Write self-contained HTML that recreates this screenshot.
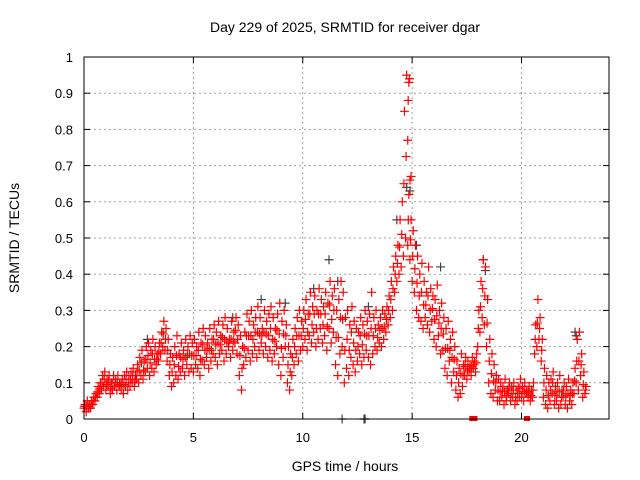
<!DOCTYPE html>
<html><head><meta charset="utf-8"><style>
body{margin:0;background:#fff}
svg{display:block;font-family:"Liberation Sans",sans-serif}
</style></head><body>
<svg id="c" width="640" height="480">
<text x="345" y="32" text-anchor="middle" font-size="14">Day 229 of 2025, SRMTID for receiver dgar</text>
<text transform="translate(19,238) rotate(-90)" text-anchor="middle" font-size="14">SRMTID / TECUs</text>
<text x="345" y="471" text-anchor="middle" font-size="14">GPS time / hours</text>
<g id="grid"></g>
<g id="ticks"></g>
<g id="black"></g>
<g id="red"></g>
<rect x="84" y="57" width="525" height="362" fill="none" stroke="#000" stroke-width="1"/>
</svg>
<script>
const xTicks=[0,5,10,15,20];
const yTicks=[0,0.1,0.2,0.3,0.4,0.5,0.6,0.7,0.8,0.9,1];
const yTickLabels=["0","0.1","0.2","0.3","0.4","0.5","0.6","0.7","0.8","0.9","1"];
const timeStep=0.1;
const redLow=[.03,.02,.03,.03,.04,.05,.06,.07,.08,.09,.08,.09,.07,.08,.09,.08,.09,.08,.07,.09,.08,.09,.10,.09,.11,.10,.12,.11,.13,.14,.12,.14,.13,.15,.16,.18,.20,.19,.16,.12,.09,.10,.12,.11,.13,.14,.12,.15,.13,.14,.13,.15,.14,.12,.16,.15,.17,.14,.16,.18,.17,.15,.18,.19,.16,.18,.20,.17,.19,.21,.18,.12,.08,.15,.17,.19,.16,.18,.20,.17,.19,.21,.18,.20,.17,.19,.16,.18,.20,.15,.12,.17,.20,.10,.08,.12,.15,.18,.16,.19,.20,.22,.19,.23,.21,.24,.20,.22,.25,.21,.23,.19,.25,.21,.24,.15,.12,.18,.20,.10,.14,.12,.17,.15,.13,.16,.18,.15,.17,.19,.17,.15,.18,.20,.19,.21,.20,.22,.24,.26,.28,.30,.35,.38,.40,.42,.45,.50,.48,.44,.38,.35,.30,.28,.27,.25,.28,.26,.24,.27,.22,.20,.23,.18,.19,.14,.12,.16,.10,.13,.08,.06,.07,.09,.12,.11,.13,.12,.14,.13,.20,.24,.28,.26,.20,.10,.07,.06,.08,.05,.05,.06,.04,.05,.07,.05,.06,.04,.05,.06,.06,.05,.07,.06,.05,.06,.18,.20,.22,.16,.06,.04,.03,.05,.07,.04,.05,.03,.04,.06,.04,.03,.05,.04,.07,.10,.08,.12,.06,.07];
const redHigh=[.04,.05,.04,.05,.06,.07,.09,.10,.12,.13,.11,.12,.10,.12,.11,.12,.10,.11,.12,.13,.12,.13,.14,.12,.15,.17,.19,.16,.20,.21,.19,.22,.20,.18,.21,.24,.27,.25,.22,.18,.17,.20,.23,.18,.21,.19,.22,.20,.23,.21,.22,.20,.24,.21,.25,.23,.21,.25,.22,.26,.24,.27,.23,.26,.28,.25,.22,.27,.24,.28,.26,.23,.20,.24,.29,.27,.30,.26,.28,.31,.28,.25,.30,.27,.29,.31,.28,.25,.29,.32,.27,.30,.26,.20,.18,.22,.25,.28,.30,.27,.30,.33,.29,.35,.31,.34,.30,.36,.33,.31,.35,.32,.38,.34,.36,.30,.33,.38,.35,.28,.30,.26,.31,.27,.25,.24,.28,.26,.30,.27,.29,.35,.28,.30,.26,.28,.30,.29,.31,.34,.38,.42,.45,.48,.55,.60,.85,.95,.62,.55,.52,.48,.45,.40,.43,.38,.35,.42,.36,.34,.33,.37,.30,.32,.28,.25,.27,.22,.24,.20,.16,.14,.18,.15,.17,.16,.15,.17,.16,.18,.30,.38,.44,.42,.33,.22,.18,.15,.12,.11,.10,.09,.11,.08,.10,.09,.10,.08,.09,.11,.09,.10,.08,.09,.08,.10,.26,.33,.28,.22,.14,.12,.10,.11,.13,.09,.10,.12,.08,.10,.09,.11,.08,.10,.14,.22,.24,.18,.13,.09];
const spikeTimes=[14.8,14.82,14.85,14.88,14.9,14.95];
const spikeValues=[0.77,0.88,0.93,0.94,0.66,0.67];
const blackTimes=[2.9,6.8,8.1,9.2,10.5,11.2,11.6,13.0,14.3,14.75,14.9,15.2,16.3,18.25,18.35,22.45,22.5,11.8,12.8,12.85];
const blackValues=[.22,.28,.33,.32,.36,.44,.38,.31,.55,.64,.63,.48,.42,.44,.41,.24,.23,0,0,0];
const redZeroTimes=[17.75,17.85,20.25];

const X0=84,X1=609,Y0=419,Y1=57,XMAX=24;
const sx=t=>X0+t/XMAX*(X1-X0);
const sy=v=>Y0-v*(Y0-Y1);
const NS="http://www.w3.org/2000/svg";
function mk(tag,attrs,parent){const e=document.createElementNS(NS,tag);for(const k in attrs)e.setAttribute(k,attrs[k]);parent.appendChild(e);return e;}
const grid=document.getElementById('grid'),ticks=document.getElementById('ticks');
yTicks.forEach((v,i)=>{
  const y=sy(v);
  if(i>0&&i<yTicks.length-1){const g=mk('line',{x1:X0,x2:X1,y1:y,y2:y,stroke:'#a0a0a0','stroke-dasharray':'2,3'},grid);
  
  }
  mk('line',{x1:X0,x2:X0+6,y1:y,y2:y,stroke:'#000'},ticks);
  mk('line',{x1:X1-6,x2:X1,y1:y,y2:y,stroke:'#000'},ticks);
  const t=mk('text',{x:X0-11,y:y+5,'text-anchor':'end','font-size':'13'},ticks);
  t.textContent=yTickLabels[i];
  
  
});
xTicks.forEach(v=>{
  const x=sx(v);
  if(v>0){const g=mk('line',{x1:x,x2:x,y1:Y1,y2:Y0,stroke:'#a0a0a0','stroke-dasharray':'2,3'},grid);
  
  }
  mk('line',{x1:x,x2:x,y1:Y0-6,y2:Y0,stroke:'#000'},ticks);
  mk('line',{x1:x,x2:x,y1:Y1,y2:Y1+6,stroke:'#000'},ticks);
  const t=mk('text',{x:x,y:Y0+23,'text-anchor':'middle','font-size':'13'},ticks);
  t.textContent=String(v);
  
  
});
function plus(g,x,y,c){const p=mk('path',{d:`M${x-4.5} ${y}h9M${x} ${y-4.5}v9`,stroke:c,'stroke-width':1.2,fill:'none'},g);
  
  }
const gb=document.getElementById('black'),gr=document.getElementById('red');
blackTimes.forEach((t,i)=>plus(gb,sx(t),sy(blackValues[i]),'#404040'));
redLow.forEach((v,i)=>plus(gr,sx(i*timeStep),sy(v),'#ff0000'));
redHigh.forEach((v,i)=>plus(gr,sx(i*timeStep+timeStep/2),sy(v),'#ff0000'));
redLow.forEach((v,i)=>{if(i<redHigh.length)plus(gr,sx(i*timeStep+timeStep/4),sy((v+redHigh[i])/2),'#ff0000');});
spikeTimes.forEach((t,i)=>plus(gr,sx(t),sy(spikeValues[i]),'#ff0000'));
redZeroTimes.forEach(t=>{const r=mk('rect',{x:sx(t)-3,y:Y0-3,width:6,height:5,fill:'#ff0000'},gr);
  
  });
</script>
</body></html>
